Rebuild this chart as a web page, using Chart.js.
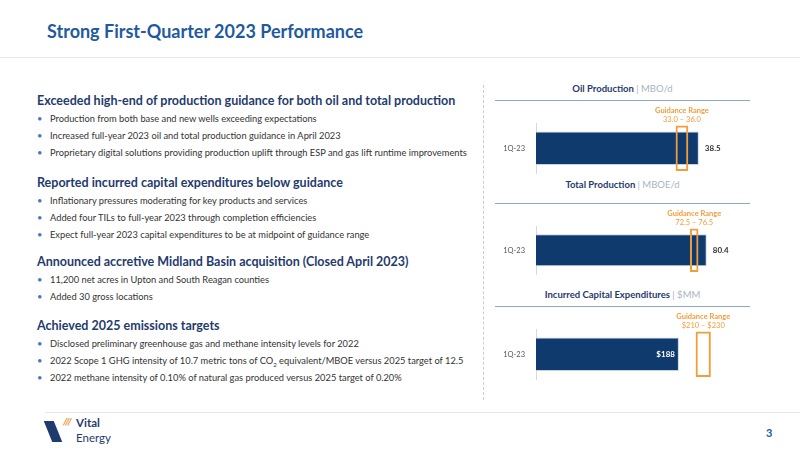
<!DOCTYPE html>
<html><head><meta charset="utf-8">
<script src="https://cdn.jsdelivr.net/npm/chart.js@4"></script>
<style>
body{margin:0;width:800px;height:450px;position:relative;background:#fff;font-family:Lato,"Open Sans",sans-serif;overflow:hidden}
.a{position:absolute;white-space:nowrap}
h1{position:absolute;left:47px;top:20px;margin:0;font-size:18px;color:#1f5aa0;font-weight:700}
.h{font-size:12.5px;font-weight:700;color:#1f3b6e}
.b{font-size:9.3px;color:#333}
.b:before{content:"•";color:#4a78b5;position:absolute;left:-13px}
.t{font-size:9.5px;font-weight:700;color:#1f3b6e;text-align:center;width:255px}
.t span{color:#a8b4c4;font-weight:400}
.ln{position:absolute;height:1px;background:#8fa9c8}
canvas{position:absolute}
</style></head><body>
<h1>Strong First-Quarter 2023 Performance</h1>
<div class="ln" style="left:0;top:57px;width:800px;background:#e3e7ec"></div>
<div style="position:absolute;left:483px;top:85px;height:315px;border-left:1px dashed #c8cdd3"></div>

<div class="a h" style="left:37px;top:93px">Exceeded high-end of production guidance for both oil and total production</div>
<div class="a b" style="left:50px;top:113px">Production from both base and new wells exceeding expectations</div>
<div class="a b" style="left:50px;top:130px">Increased full-year 2023 oil and total production guidance in April 2023</div>
<div class="a b" style="left:50px;top:147px">Proprietary digital solutions providing production uplift through ESP and gas lift runtime improvements</div>
<div class="a h" style="left:37px;top:175px">Reported incurred capital expenditures below guidance</div>
<div class="a b" style="left:50px;top:195px">Inflationary pressures moderating for key products and services</div>
<div class="a b" style="left:50px;top:212px">Added four TILs to full-year 2023 through completion efficiencies</div>
<div class="a b" style="left:50px;top:229px">Expect full-year 2023 capital expenditures to be at midpoint of guidance range</div>
<div class="a h" style="left:37px;top:254px">Announced accretive Midland Basin acquisition (Closed April 2023)</div>
<div class="a b" style="left:50px;top:274px">11,200 net acres in Upton and South Reagan counties</div>
<div class="a b" style="left:50px;top:291px">Added 30 gross locations</div>
<div class="a h" style="left:37px;top:318px">Achieved 2025 emissions targets</div>
<div class="a b" style="left:50px;top:338px">Disclosed preliminary greenhouse gas and methane intensity levels for 2022</div>
<div class="a b" style="left:50px;top:355px">2022 Scope 1 GHG intensity of 10.7 metric tons of CO<sub style="font-size:6px">2</sub> equivalent/MBOE versus 2025 target of 12.5</div>
<div class="a b" style="left:50px;top:372px">2022 methane intensity of 0.10% of natural gas produced versus 2025 target of 0.20%</div>

<div class="a t" style="left:495px;top:83px">Oil Production <span>| MBO/d</span></div>
<div class="ln" style="left:495px;top:100px;width:255px"></div>
<div class="a t" style="left:495px;top:179px">Total Production <span>| MBOE/d</span></div>
<div class="ln" style="left:495px;top:203px;width:255px"></div>
<div class="a t" style="left:495px;top:289px">Incurred Capital Expenditures <span>| $MM</span></div>
<div class="ln" style="left:495px;top:306px;width:255px"></div>

<canvas id="c0" style="left:495px;top:101px" width="255" height="80"></canvas>
<canvas id="c1" style="left:495px;top:204px" width="255" height="78"></canvas>
<canvas id="c2" style="left:495px;top:307px" width="255" height="80"></canvas>

<div class="ln" style="left:45px;top:412px;width:755px;background:#e3e7ec"></div>
<div class="a" style="left:48px;top:421px;width:10px;height:21px;background:#1f3b6e;transform:skewX(22deg)"></div>
<div class="a" style="left:63px;top:416px;color:#f08a24;font-size:10px;font-weight:700;font-style:italic;line-height:10px">///</div>
<div class="a" style="left:76px;top:417px;color:#1f3b6e;font-size:11.5px;font-weight:700;line-height:11px">Vital</div>
<div class="a" style="left:76px;top:432px;color:#1f3b6e;font-size:11.5px;line-height:11px">Energy</div>
<div class="a" style="left:766px;top:426px;color:#1f5aa0;font-size:11px;font-weight:700">3</div>

<script>
const categories = ["1Q-23"];
const actuals = [38.5, 80.4, 188];
const guidanceLow = [33.0, 72.5, 210];
const guidanceHigh = [36.0, 76.5, 230];
const valueLabels = ["38.5", "80.4", "$188"];
const rangeLabels = ["33.0 – 36.0", "72.5 – 76.5", "$210 – $230"];
const axisMax = [48.7, 97, 271];
const navy = "#0f3a6e", orange = "#f39c3a";

const labelPlugin = {
  id: "labels",
  afterDatasetsDraw(chart) {
    const i = chart.options.idx, ctx = chart.ctx;
    const bar = chart.getDatasetMeta(0).data[0];
    const box = chart.getDatasetMeta(1).data[0];
    ctx.save();
    ctx.font = "bold 8px Lato, sans-serif";
    ctx.textBaseline = "middle";
    if (i === 2) {
      ctx.fillStyle = "#fff"; ctx.textAlign = "right";
      ctx.fillText(valueLabels[i], bar.x - 4, bar.y);
    } else {
      ctx.fillStyle = "#333"; ctx.textAlign = "left";
      ctx.fillText(valueLabels[i], bar.x + 6, bar.y);
    }
    const cx = (box.x + box.base) / 2, top = box.y - box.height / 2;
    ctx.fillStyle = orange; ctx.textAlign = "center";
    ctx.font = "bold 7.5px Lato, sans-serif";
    ctx.fillText("Guidance Range", cx, top - 15);
    ctx.font = "7.5px Lato, sans-serif";
    ctx.fillText(rangeLabels[i], cx, top - 6);
    ctx.restore();
  }
};

[0, 1, 2].forEach(i => {
  new Chart(document.getElementById("c" + i), {
    type: "bar",
    data: {
      labels: categories,
      datasets: [
        { data: [actuals[i]], backgroundColor: navy, borderColor: "#c9d3df", borderWidth: 1,
          barPercentage: 0.66, categoryPercentage: 1, order: 2 },
        { data: [[guidanceLow[i], guidanceHigh[i]]], backgroundColor: "rgba(0,0,0,0)", borderColor: orange,
          borderWidth: 2, borderSkipped: false, barPercentage: 0.9, categoryPercentage: 1, order: 1 }
      ]
    },
    options: {
      idx: i,
      indexAxis: "y",
      responsive: false,
      animation: false,
      grouped: false,
      layout: { padding: { top: 22, bottom: 4, right: 8 } },
      plugins: { legend: { display: false }, tooltip: { enabled: false } },
      scales: {
        x: { display: false, min: 0, max: axisMax[i] },
        y: {
          grid: { display: false },
          border: { color: "#d5d9de" },
          ticks: { color: "#555", font: { size: 7.5, family: "Lato" } },
          afterFit(s) { s.width = 41; }
        }
      }
    },
    plugins: [labelPlugin]
  });
});
</script>
</body></html>
